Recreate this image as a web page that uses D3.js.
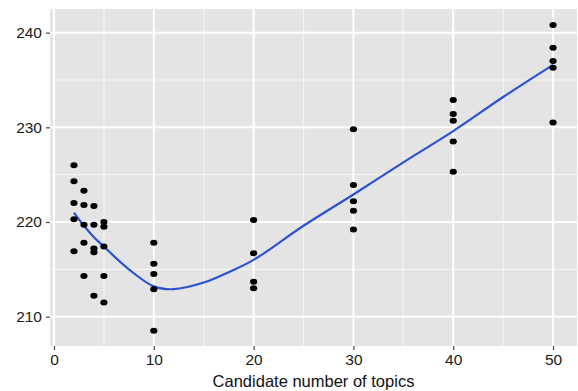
<!DOCTYPE html>
<html>
<head>
<meta charset="utf-8">
<script src="https://cdn.jsdelivr.net/npm/d3@7"></script>
<style>
  body { margin: 0; background: #fff; }
  text { font-family: "Liberation Sans", Arial, sans-serif; }
</style>
</head>
<body>
<figure id="scatter" style="margin:0"></figure>
<script>
// observed perplexity values for each candidate number of topics
const topicCounts = [2, 3, 4, 5, 10, 20, 30, 40, 50];
const scores = [
  [226.0, 224.3, 222.0, 220.3, 216.9],
  [223.3, 221.8, 219.7, 217.8, 214.3],
  [221.7, 219.7, 217.2, 216.8, 212.2],
  [220.0, 219.5, 217.4, 214.3, 211.5],
  [217.8, 215.6, 214.5, 212.9, 208.5],
  [220.2, 216.7, 213.7, 213.0],
  [229.8, 223.9, 222.2, 221.2, 219.2],
  [232.9, 231.4, 230.7, 228.5, 225.3],
  [240.8, 238.4, 237.0, 236.3, 230.5]
];
// smoothed trend
const smoothX = [2, 3, 4, 5, 7.5, 10, 12, 15, 17.5, 20, 25, 30, 35, 40, 45, 50];
const smoothY = [221.0, 219.6, 218.4, 217.4, 215.0, 213.2, 212.9, 213.6, 214.7, 216.0, 219.6, 222.9, 226.3, 229.6, 233.2, 236.6];
const xTicks = [0, 10, 20, 30, 40, 50];
const yTicks = [210, 220, 230, 240];

const width = 578, height = 391;
const panel = { left: 50, top: 9, right: 577, bottom: 346 };

const svg = d3.select("figure#scatter")
  .append("svg")
  .attr("width", width)
  .attr("height", height);

const x = d3.scaleLinear().domain([-0.4, 52.4]).range([panel.left, panel.right]);
const y = d3.scaleLinear().domain([206.9, 242.5]).range([panel.bottom, panel.top]);

// panel background
svg.append("rect")
  .attr("x", panel.left).attr("y", panel.top)
  .attr("width", panel.right - panel.left)
  .attr("height", panel.bottom - panel.top)
  .attr("fill", "#e4e4e4");

// minor grid
const xMinor = [5, 15, 25, 35, 45];
const yMinor = [215, 225, 235];
svg.append("g").selectAll("line").data(xMinor).enter().append("line")
  .attr("x1", d => x(d)).attr("x2", d => x(d))
  .attr("y1", panel.top).attr("y2", panel.bottom)
  .attr("stroke", "#f4f4f4").attr("stroke-width", 1.2);
svg.append("g").selectAll("line").data(yMinor).enter().append("line")
  .attr("y1", d => y(d)).attr("y2", d => y(d))
  .attr("x1", panel.left).attr("x2", panel.right)
  .attr("stroke", "#f4f4f4").attr("stroke-width", 1.2);

// major grid
svg.append("g").selectAll("line").data(xTicks).enter().append("line")
  .attr("x1", d => x(d)).attr("x2", d => x(d))
  .attr("y1", panel.top).attr("y2", panel.bottom)
  .attr("stroke", "#fff").attr("stroke-width", 2);
svg.append("g").selectAll("line").data(yTicks).enter().append("line")
  .attr("y1", d => y(d)).attr("y2", d => y(d))
  .attr("x1", panel.left).attr("x2", panel.right)
  .attr("stroke", "#fff").attr("stroke-width", 2);

// axes
const xAxis = svg.append("g")
  .attr("transform", "translate(0," + panel.bottom + ")")
  .call(d3.axisBottom(x).tickValues(xTicks).tickSize(4).tickPadding(4));
const yAxis = svg.append("g")
  .attr("transform", "translate(" + panel.left + ",0)")
  .call(d3.axisLeft(y).tickValues(yTicks).tickSize(4).tickPadding(4));
[xAxis, yAxis].forEach(a => {
  a.select(".domain").remove();
  a.selectAll(".tick line").attr("stroke", "#444").attr("stroke-width", 1.2);
  a.selectAll("text").style("font-size", "15.5px").attr("fill", "#1a1a1a");
});

// axis title
svg.append("text")
  .attr("x", (panel.left + panel.right) / 2)
  .attr("y", 387)
  .attr("text-anchor", "middle")
  .style("font-size", "16.5px")
  .attr("fill", "#111")
  .text("Candidate number of topics");

// smooth line
const smooth = smoothX.map((d, i) => [d, smoothY[i]]);
svg.append("path")
  .datum(smooth)
  .attr("fill", "none")
  .attr("stroke", "#2c52d2")
  .attr("stroke-width", 2.2)
  .attr("d", d3.line().x(d => x(d[0])).y(d => y(d[1])).curve(d3.curveCatmullRom));

// points
const pts = [];
topicCounts.forEach((k, i) => scores[i].forEach(v => pts.push({ k: k, v: v })));
svg.append("g").selectAll("ellipse").data(pts).enter().append("ellipse")
  .attr("cx", d => x(d.k))
  .attr("cy", d => y(d.v))
  .attr("rx", 3.6).attr("ry", 3)
  .attr("fill", "#000");
</script>
</body>
</html>
